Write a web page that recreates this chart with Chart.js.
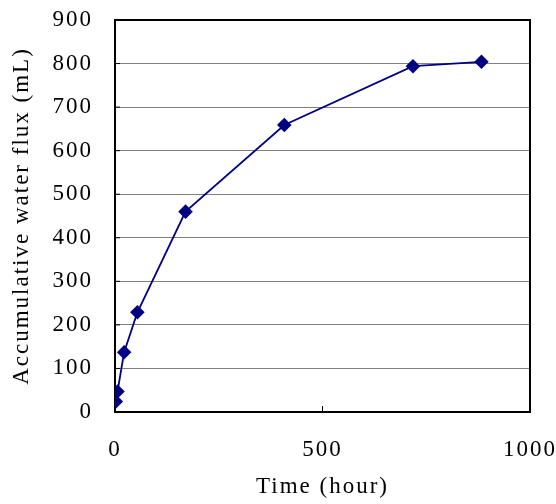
<!DOCTYPE html>
<html>
<head>
<meta charset="utf-8">
<script src="https://cdn.jsdelivr.net/npm/chart.js@4"></script>
<style>
    html, body { margin: 0; padding: 0; background: #fff; }
    #wrap { width: 556px; height: 504px; position: relative; }
</style>
</head>
<body>
<div id="wrap"><canvas id="fluxChart"></canvas></div>
<script>
// values
const timeHours = [2, 6, 22, 54, 170, 408, 718, 883];
const waterFlux = [24, 47, 137, 229, 460, 659, 794, 804];
const xTicks = [0, 500, 1000];
const yTicks = [0, 100, 200, 300, 400, 500, 600, 700, 800, 900];

const FONT = '"Liberation Serif", "DejaVu Serif", serif';

// the original font is spaced wide, mimic it
const spacingPlugin = {
    id: 'spacing',
    beforeLayout(chart) { chart.ctx.letterSpacing = '2px'; },
    beforeDraw(chart) { chart.ctx.letterSpacing = '2px'; }
};

// plot frame + short inner tick marks
const framePlugin = {
    id: 'frame',
    beforeDatasetsDraw(chart) {
        const { ctx, chartArea: a, scales } = chart;
        ctx.save();
        ctx.strokeStyle = '#000';
        ctx.lineWidth = 1;
        yTicks.forEach(v => {
            const y = scales.y.getPixelForValue(v);
            ctx.beginPath();
            ctx.moveTo(a.left, y);
            ctx.lineTo(a.left + 5, y);
            ctx.stroke();
        });
        xTicks.forEach(v => {
            const x = scales.x.getPixelForValue(v);
            ctx.beginPath();
            ctx.moveTo(x, a.bottom);
            ctx.lineTo(x, a.bottom - 6);
            ctx.stroke();
        });
        ctx.lineWidth = 2;
        ctx.strokeRect(a.left, a.top, a.right - a.left, a.bottom - a.top);
        ctx.restore();
    }
};

const ctx = document.getElementById('fluxChart').getContext('2d');
new Chart(ctx, {
    type: 'scatter',
    data: {
        datasets: [{
            data: timeHours.map((t, i) => ({ x: t, y: waterFlux[i] })),
            showLine: true,
            borderColor: '#000080',
            backgroundColor: '#000080',
            borderWidth: 1.8,
            pointStyle: 'rectRot',
            pointRadius: 6,
            pointHoverRadius: 6
        }]
    },
    options: {
        responsive: true,
        maintainAspectRatio: false,
        animation: false,
        layout: {
            padding: { left: 8, right: 26, top: 20, bottom: 0 }
        },
        plugins: {
            legend: { display: false },
            tooltip: { enabled: false }
        },
        scales: {
            x: {
                type: 'linear',
                min: 0,
                max: 1000,
                afterBuildTicks: s => { s.ticks = xTicks.map(v => ({ value: v })); },
                afterFit: s => {
                    s.height = 92;
                    s.paddingLeft = 0;
                    s.paddingRight = 0;
                },
                grid: { display: false },
                border: { display: false },
                ticks: {
                    color: '#000',
                    padding: 16,
                    maxRotation: 0,
                    callback: v => String(v),
                    font: { family: FONT, size: 23 }
                },
                title: {
                    display: true,
                    text: 'Time (hour)',
                    color: '#000',
                    padding: { top: 0, bottom: 3 },
                    font: { family: FONT, size: 23 }
                }
            },
            y: {
                min: 0,
                max: 900,
                afterBuildTicks: s => { s.ticks = yTicks.map(v => ({ value: v })); },
                afterFit: s => {
                    s.width = 107;
                    s.paddingTop = 0;
                    s.paddingBottom = 0;
                },
                grid: {
                    color: '#808080',
                    lineWidth: 1,
                    drawTicks: false
                },
                border: { display: false },
                ticks: {
                    color: '#000',
                    padding: 22,
                    callback: v => String(v),
                    font: { family: FONT, size: 23 }
                },
                title: {
                    display: true,
                    text: 'Accumulative water flux (mL)',
                    color: '#000',
                    padding: { top: 0, bottom: 0 },
                    font: { family: FONT, size: 23 }
                }
            }
        }
    },
    plugins: [spacingPlugin, framePlugin]
});
</script>
</body>
</html>
